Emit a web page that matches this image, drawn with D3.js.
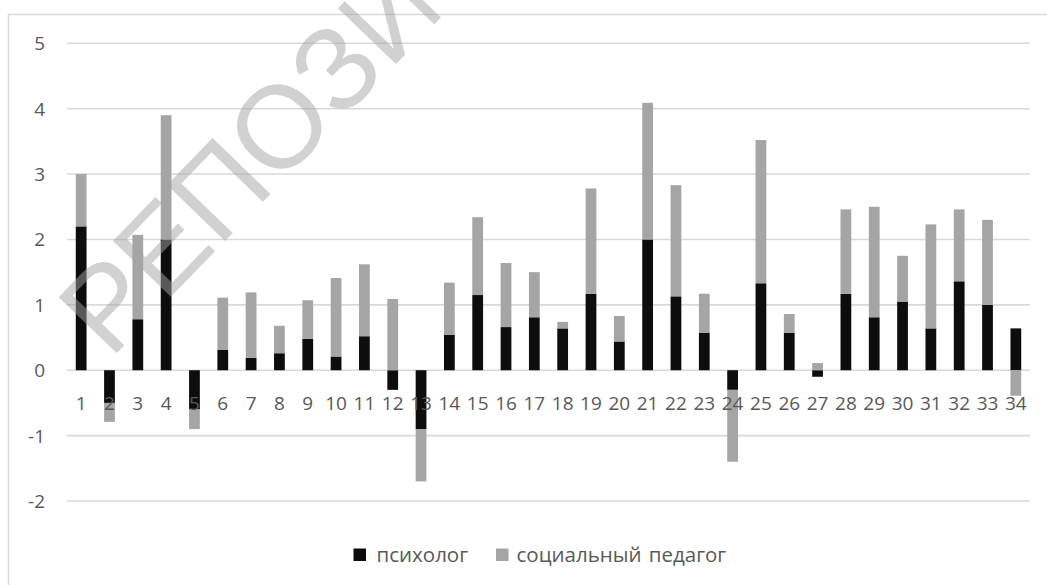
<!DOCTYPE html>
<html>
<head>
<meta charset="utf-8">
<script src="https://cdn.jsdelivr.net/npm/d3@7"></script>
<style>
  html, body { margin: 0; padding: 0; background: #fff; }
  svg { display: block; }
  text { font-family: "Open Sans", sans-serif; }
</style>
</head>
<body>
<svg id="chart" width="1047" height="585"></svg>
<script>
// ---- data ----
const categories = ["1","2","3","4","5","6","7","8","9","10","11","12","13","14","15","16","17","18","19","20","21","22","23","24","25","26","27","28","29","30","31","32","33","34"];
const psychologist = [2.2,-0.5,0.78,2.0,-0.6,0.31,0.19,0.26,0.48,0.21,0.52,-0.3,-0.9,0.54,1.15,0.66,0.81,0.64,1.17,0.44,2.0,1.13,0.57,-0.3,1.33,0.57,-0.1,1.17,0.81,1.05,0.64,1.36,1.0,0.64];
const socialPedagogue = [0.8,-0.29,1.29,1.9,-0.3,0.8,1.0,0.42,0.59,1.2,1.1,1.09,-0.8,0.8,1.19,0.98,0.69,0.1,1.61,0.39,2.09,1.7,0.6,-1.1,2.19,0.29,0.11,1.29,1.69,0.7,1.59,1.1,1.3,-0.39];
const seriesNames = ["психолог", "социальный педагог"];
const seriesColors = ["#0d0d0d", "#a5a5a5"];
const yTicks = [-2,-1,0,1,2,3,4,5];
const watermark = "РЕПОЗИТОРИЙ";

const svg = d3.select("#chart");
const W = 1047, H = 585;

// chart frame
svg.append("path")
  .attr("d", `M8.5,${H+2} L8.5,14.5 L${W+2},14.5`)
  .attr("fill", "none").attr("stroke", "#d9d9d9").attr("stroke-width", 1.5);

const x = d3.scaleBand().domain(categories).range([67, 1030]).paddingInner(0.62).paddingOuter(0.31);
const y = d3.scaleLinear().domain([-2, 5]).range([501, 43.3]);

// gridlines
svg.append("g").selectAll("line").data(yTicks).join("line")
  .attr("x1", 67).attr("x2", 1030)
  .attr("y1", d => y(d)).attr("y2", d => y(d))
  .attr("stroke", "#d9d9d9").attr("stroke-width", 1.6);

// y labels
svg.append("g").selectAll("text").data(yTicks).join("text")
  .attr("x", 45).attr("y", d => y(d))
  .attr("text-anchor", "end").attr("dominant-baseline", "central")
  .attr("fill", "#595959").attr("font-size", 19)
  .text(d => d);

// stacked bars
const rows = categories.map((c, i) => ({cat: c, s0: psychologist[i], s1: socialPedagogue[i]}));
const stack = d3.stack().keys(["s0","s1"]).offset(d3.stackOffsetDiverging);
const stacked = stack(rows);

svg.append("g").selectAll("g").data(stacked).join("g")
  .attr("fill", (d, i) => seriesColors[i])
  .selectAll("rect").data(d => d).join("rect")
  .attr("x", d => x(d.data.cat))
  .attr("width", x.bandwidth())
  .attr("y", d => y(Math.max(d[0], d[1])))
  .attr("height", d => Math.abs(y(d[0]) - y(d[1])));

// x labels (next to zero line)
svg.append("g").selectAll("text").data(categories).join("text")
  .attr("x", d => x(d) + x.bandwidth() / 2)
  .attr("y", y(0) + 39.5)
  .attr("text-anchor", "middle")
  .attr("fill", "#595959").attr("font-size", 19)
  .text(d => d);

// legend
const legend = svg.append("g");
const legendItems = [{x: 353.5, tx: 376.5}, {x: 496, tx: 516.5}];
seriesNames.forEach((n, i) => {
  legend.append("rect").attr("x", legendItems[i].x).attr("y", 548.5).attr("width", 12.5).attr("height", 12.5).attr("fill", seriesColors[i]);
  legend.append("text").attr("x", legendItems[i].tx).attr("y", 562)
    .attr("fill", "#595959").attr("font-size", 20.5).attr("word-spacing", 2).text(n);
});

// watermark
svg.append("text")
  .attr("transform", "translate(110,360) rotate(-46)")
  .attr("font-size", 117)
  .attr("fill", "#a3a3a3").attr("fill-opacity", 0.5)
  .style("font-family", "'Liberation Sans', Arial, sans-serif")
  .text(watermark);
</script>
</body>
</html>
